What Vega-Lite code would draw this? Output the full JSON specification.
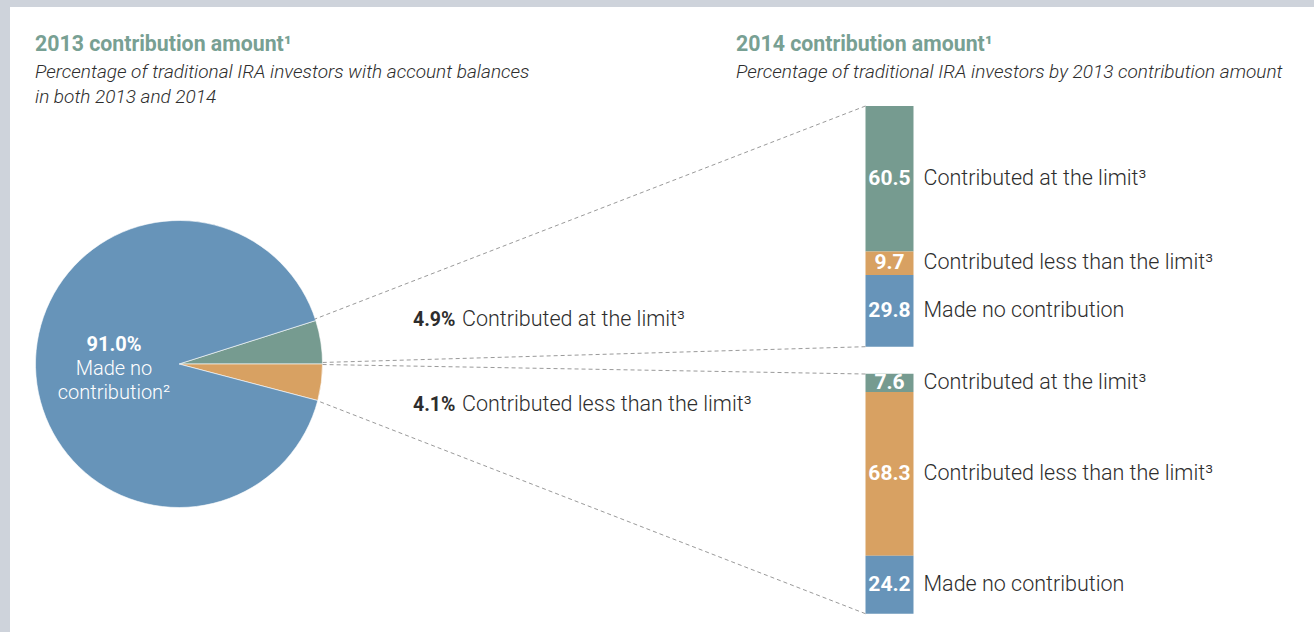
{
  "$schema": "https://vega.github.io/schema/vega-lite/v6.json",
  "width": 1304,
  "height": 625,
  "padding": {"left": 10, "top": 7, "right": 0, "bottom": 0},
  "autosize": {"type": "none"},
  "background": "#ced3db",
  "config": {
    "view": {"fill": "#ffffff", "stroke": null},
    "axis": {"disable": true},
    "legend": {"disable": true},
    "text": {"font": "Roboto"}
  },
  "datasets": {
    "pie2013": [
      {"year": "2013", "amount": "Contributed at the limit", "share": 0.049, "label": "Contributed at the limit³"},
      {"year": "2013", "amount": "Contributed less than the limit", "share": 0.041, "label": "Contributed less than the limit³"},
      {"year": "2013", "amount": "Made no contribution", "share": 0.910, "label": "Made no contribution²"}
    ],
    "bars2014": [
      {"year": "2014", "group2013": "Contributed at the limit", "amount": "Contributed at the limit", "pct": 60.5, "label": "Contributed at the limit³"},
      {"year": "2014", "group2013": "Contributed at the limit", "amount": "Contributed less than the limit", "pct": 9.7, "label": "Contributed less than the limit³"},
      {"year": "2014", "group2013": "Contributed at the limit", "amount": "Made no contribution", "pct": 29.8, "label": "Made no contribution"},
      {"year": "2014", "group2013": "Contributed less than the limit", "amount": "Contributed at the limit", "pct": 7.6, "label": "Contributed at the limit³"},
      {"year": "2014", "group2013": "Contributed less than the limit", "amount": "Contributed less than the limit", "pct": 68.3, "label": "Contributed less than the limit³"},
      {"year": "2014", "group2013": "Contributed less than the limit", "amount": "Made no contribution", "pct": 24.2, "label": "Made no contribution"}
    ]
  },
  "resolve": {"scale": {"y": "independent"}},
  "layer": [
    {
      "data": {"name": "pie2013"},
      "encoding": {
        "x": {"field": "year", "type": "nominal", "scale": {"type": "band", "domain": ["2013", "2014"], "paddingInner": 0.93244, "paddingOuter": 0.383885, "align": 0.26581, "round": false}},
        "y": {"field": "year", "type": "nominal", "scale": {"type": "band", "domain": ["2013"], "paddingInner": 0, "paddingOuter": 0.58885, "align": 0.63166, "round": false}}
      },
      "layer": [
        {
          "mark": {"type": "arc", "outerRadius": 143.5, "stroke": "#ffffff", "strokeWidth": 0.6},
          "encoding": {
            "theta": {"field": "share", "type": "quantitative", "stack": true, "scale": {"range": [1.26292, 7.54611]}},
            "color": {"field": "amount", "type": "nominal", "legend": null, "scale": {"domain": ["Contributed at the limit", "Contributed less than the limit", "Made no contribution"], "range": ["#769b90", "#d8a162", "#6794b9"]}},
            "order": {"field": "amount", "type": "nominal", "sort": "ascending"}
          }
        },
        {
          "transform": [{"filter": "datum.amount === 'Made no contribution'"}],
          "mark": {"type": "text", "fontWeight": "bold", "fontSize": 20, "fill": "#ffffff", "align": "center", "baseline": "middle", "dx": -65, "dy": -19},
          "encoding": {"text": {"field": "share", "type": "quantitative", "format": ".1%"}}
        },
        {
          "transform": [{"filter": "datum.amount === 'Made no contribution'"}],
          "mark": {"type": "text", "fontWeight": 300, "fontSize": 20, "fill": "#ffffff", "align": "center", "baseline": "middle", "lineHeight": 24, "dx": -65, "dy": 5},
          "encoding": {"text": {"value": ["Made no", "contribution²"]}}
        },
        {
          "transform": [{"filter": "datum.amount === 'Made no contribution'"}],
          "mark": {"type": "text", "fontWeight": "bold", "fontSize": 21.3, "fill": "#78a093", "align": "left", "baseline": "middle", "dx": -144, "dy": -319},
          "encoding": {"text": {"value": "2013 contribution amount¹"}}
        },
        {
          "transform": [{"filter": "datum.amount === 'Made no contribution'"}],
          "mark": {"type": "text", "fontWeight": 300, "fontStyle": "italic", "fontSize": 19, "fill": "#2d2d2d", "align": "left", "baseline": "middle", "lineHeight": 25, "dx": -144, "dy": -292},
          "encoding": {"text": {"value": ["Percentage of traditional IRA investors with account balances", "in both 2013 and 2014"]}}
        }
      ]
    },
    {
      "layer": [
        {
          "data": {"name": "bars2014"},
          "transform": [{"filter": "datum.group2013 === 'Contributed at the limit'"}],
          "encoding": {
            "x": {"field": "year", "type": "nominal", "scale": {"type": "band", "domain": ["2013", "2014"], "paddingInner": 0.93244, "paddingOuter": 0.383885, "align": 0.26581, "round": false}},
            "y": {"field": "pct", "type": "quantitative", "stack": "zero", "scale": {"domain": [-118.53, 141.13], "nice": false, "zero": false}},
            "order": {"field": "amount", "type": "nominal", "sort": "descending"}
          },
          "layer": [
            {
              "mark": {"type": "bar"},
              "encoding": {"color": {"field": "amount", "type": "nominal", "legend": null}}
            },
            {
              "mark": {"type": "text", "fontWeight": "bold", "fontSize": 21, "fill": "#ffffff", "align": "center", "baseline": "middle"},
              "encoding": {
                "y": {"field": "pct", "type": "quantitative", "stack": "zero", "bandPosition": 0.5, "scale": {"domain": [-118.53, 141.13], "nice": false, "zero": false}},
                "text": {"field": "pct", "type": "quantitative", "format": ".1f"}
              }
            },
            {
              "mark": {"type": "text", "fontWeight": 300, "fontSize": 21.5, "fill": "#2d2d2d", "align": "left", "baseline": "middle", "dx": 10},
              "encoding": {
                "x": {"field": "year", "type": "nominal", "bandPosition": 1},
                "y": {"field": "pct", "type": "quantitative", "stack": "zero", "bandPosition": 0.5, "scale": {"domain": [-118.53, 141.13], "nice": false, "zero": false}},
                "text": {"field": "label", "type": "nominal"}
              }
            }
          ]
        },
        {
          "data": {"name": "pie2013"},
          "transform": [{"filter": "datum.amount === 'Contributed at the limit'"}],
          "layer": [
            {
              "mark": {"type": "rule", "stroke": "#9a9a9a", "strokeWidth": 1, "strokeDash": [4, 3], "x2Offset": 136},
              "encoding": {
                "x": {"datum": "2014", "type": "nominal", "bandPosition": 0},
                "y": {"datum": 100, "scale": {"domain": [-118.53, 141.13], "nice": false, "zero": false}},
                "x2": {"datum": "2013"},
                "y2": {"datum": 11.51}
              }
            },
            {
              "mark": {"type": "rule", "stroke": "#9a9a9a", "strokeWidth": 1, "strokeDash": [4, 3], "x2Offset": 143},
              "encoding": {
                "x": {"datum": "2014", "type": "nominal", "bandPosition": 0},
                "y": {"datum": 0, "scale": {"domain": [-118.53, 141.13], "nice": false, "zero": false}},
                "x2": {"datum": "2013"},
                "y2": {"datum": -6.56}
              }
            },
            {
              "mark": {"type": "text", "fontWeight": "bold", "fontSize": 19.5, "fill": "#2d2d2d", "align": "left", "baseline": "middle", "dx": 234},
              "encoding": {
                "x": {"datum": "2013", "type": "nominal"},
                "y": {"datum": 11.09, "scale": {"domain": [-118.53, 141.13], "nice": false, "zero": false}},
                "text": {"field": "share", "type": "quantitative", "format": ".1%"}
              }
            },
            {
              "mark": {"type": "text", "fontWeight": 300, "fontSize": 21.5, "fill": "#2d2d2d", "align": "left", "baseline": "middle", "dx": 283},
              "encoding": {
                "x": {"datum": "2013", "type": "nominal"},
                "y": {"datum": 11.09, "scale": {"domain": [-118.53, 141.13], "nice": false, "zero": false}},
                "text": {"field": "label", "type": "nominal"}
              }
            },
            {
              "mark": {"type": "text", "fontWeight": "bold", "fontSize": 21.3, "fill": "#78a093", "align": "left", "baseline": "middle", "dx": -129.5, "dy": -61},
              "encoding": {
                "x": {"datum": "2014", "type": "nominal", "bandPosition": 0},
                "y": {"datum": 100, "scale": {"domain": [-118.53, 141.13], "nice": false, "zero": false}},
                "text": {"value": "2014 contribution amount¹"}
              }
            },
            {
              "mark": {"type": "text", "fontWeight": 300, "fontStyle": "italic", "fontSize": 19, "fill": "#2d2d2d", "align": "left", "baseline": "middle", "dx": -129.5, "dy": -34},
              "encoding": {
                "x": {"datum": "2014", "type": "nominal", "bandPosition": 0},
                "y": {"datum": 100, "scale": {"domain": [-118.53, 141.13], "nice": false, "zero": false}},
                "text": {"value": "Percentage of traditional IRA investors by 2013 contribution amount"}
              }
            }
          ]
        }
      ]
    },
    {
      "layer": [
        {
          "data": {"name": "bars2014"},
          "transform": [{"filter": "datum.group2013 === 'Contributed less than the limit'"}],
          "encoding": {
            "x": {"field": "year", "type": "nominal"},
            "y": {"field": "pct", "type": "quantitative", "stack": "zero", "scale": {"domain": [-7.63, 253.11], "nice": false, "zero": false}},
            "order": {"field": "amount", "type": "nominal", "sort": "descending"}
          },
          "layer": [
            {
              "mark": {"type": "bar"},
              "encoding": {"color": {"field": "amount", "type": "nominal", "legend": null}}
            },
            {
              "mark": {"type": "text", "fontWeight": "bold", "fontSize": 21, "fill": "#ffffff", "align": "center", "baseline": "middle"},
              "encoding": {
                "y": {"field": "pct", "type": "quantitative", "stack": "zero", "bandPosition": 0.5, "scale": {"domain": [-7.63, 253.11], "nice": false, "zero": false}},
                "text": {"field": "pct", "type": "quantitative", "format": ".1f"}
              }
            },
            {
              "mark": {"type": "text", "fontWeight": 300, "fontSize": 21.5, "fill": "#2d2d2d", "align": "left", "baseline": "middle", "dx": 10},
              "encoding": {
                "x": {"field": "year", "type": "nominal", "bandPosition": 1},
                "y": {"field": "pct", "type": "quantitative", "stack": "zero", "bandPosition": 0.5, "scale": {"domain": [-7.63, 253.11], "nice": false, "zero": false}},
                "text": {"field": "label", "type": "nominal"}
              }
            }
          ]
        },
        {
          "data": {"name": "pie2013"},
          "transform": [{"filter": "datum.amount === 'Contributed less than the limit'"}],
          "layer": [
            {
              "mark": {"type": "rule", "stroke": "#9a9a9a", "strokeWidth": 1, "strokeDash": [4, 3], "x2Offset": 143},
              "encoding": {
                "x": {"datum": "2014", "type": "nominal", "bandPosition": 0},
                "y": {"datum": 100, "scale": {"domain": [-7.63, 253.11], "nice": false, "zero": false}},
                "x2": {"datum": "2013"},
                "y2": {"datum": 103.96}
              }
            },
            {
              "mark": {"type": "rule", "stroke": "#9a9a9a", "strokeWidth": 1, "strokeDash": [4, 3], "x2Offset": 139},
              "encoding": {
                "x": {"datum": "2014", "type": "nominal", "bandPosition": 0},
                "y": {"datum": 0, "scale": {"domain": [-7.63, 253.11], "nice": false, "zero": false}},
                "x2": {"datum": "2013"},
                "y2": {"datum": 88.74}
              }
            },
            {
              "mark": {"type": "text", "fontWeight": "bold", "fontSize": 19.5, "fill": "#2d2d2d", "align": "left", "baseline": "middle", "dx": 234},
              "encoding": {
                "x": {"datum": "2013", "type": "nominal"},
                "y": {"datum": 87.07, "scale": {"domain": [-7.63, 253.11], "nice": false, "zero": false}},
                "text": {"field": "share", "type": "quantitative", "format": ".1%"}
              }
            },
            {
              "mark": {"type": "text", "fontWeight": 300, "fontSize": 21.5, "fill": "#2d2d2d", "align": "left", "baseline": "middle", "dx": 283},
              "encoding": {
                "x": {"datum": "2013", "type": "nominal"},
                "y": {"datum": 87.07, "scale": {"domain": [-7.63, 253.11], "nice": false, "zero": false}},
                "text": {"field": "label", "type": "nominal"}
              }
            }
          ]
        }
      ]
    }
  ]
}
